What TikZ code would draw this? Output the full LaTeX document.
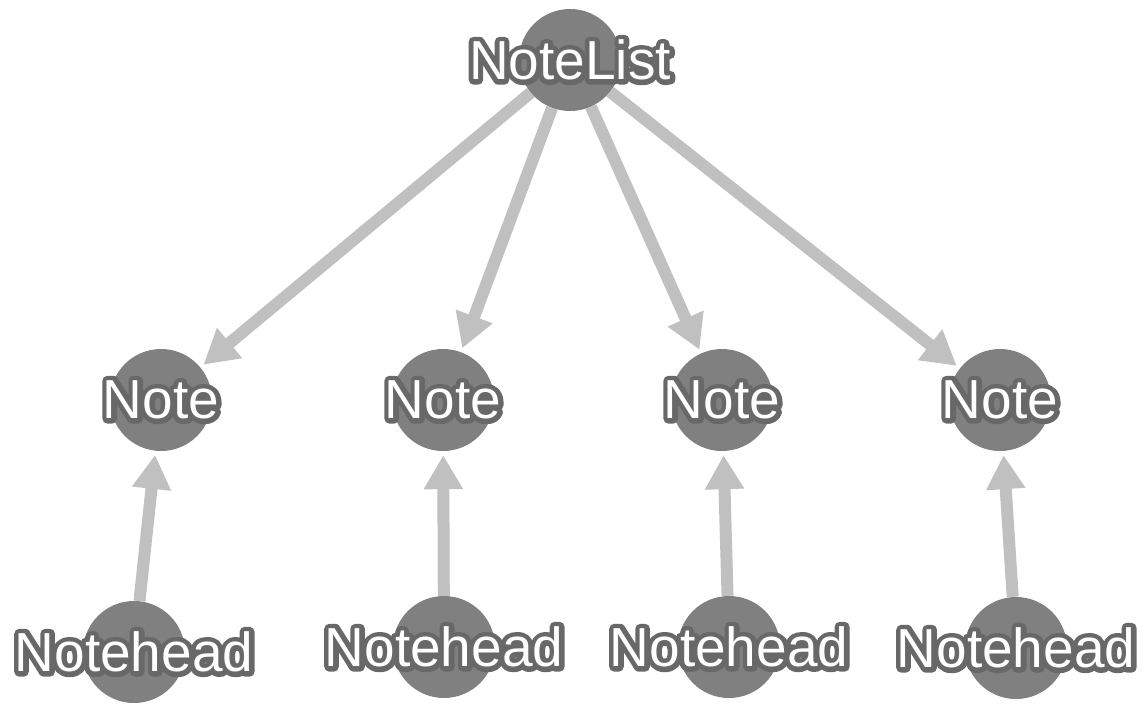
\documentclass[tikz,border=0pt]{standalone}
\usepackage{fontspec}
\setmainfont{Liberation Sans}
\usetikzlibrary{arrows.meta,backgrounds}
\definecolor{circ}{RGB}{128,128,128}
\definecolor{halo}{RGB}{104,104,104}
\definecolor{edgec}{RGB}{192,192,192}
\newcommand{\halotext}[1]{\leavevmode\rlap{\color{halo}\special{pdf:literal direct 2 Tr 10 w 1 j 1 J}#1\special{pdf:literal direct 0 Tr 1 w}}\textcolor{white}{#1}}
\tikzset{
  ball/.style={circle,fill=circ,minimum size=102pt,inner sep=0pt},
  lbl/.style={inner sep=0pt,font=\fontsize{55}{55}\selectfont},
  link/.style={draw=edgec,line width=12pt,-{Triangle[length=34pt,width=37pt]},shorten >=4pt}
}
\begin{document}
\begin{tikzpicture}[x=1pt,y=-1pt]
\useasboundingbox (0,0) rectangle (1141,704);
\node[ball] (NL) at (570,60) {};
\node[ball] (N1) at (161,400) {};
\node[ball] (N2) at (443,400) {};
\node[ball] (N3) at (722,400) {};
\node[ball] (N4) at (1000,400) {};
\node[ball] (H1) at (134,652) {};
\node[ball] (H2) at (444,647) {};
\node[ball] (H3) at (729,647) {};
\node[ball] (H4) at (1016,648) {};
\begin{pgfonlayer}{background}
\draw[link] (NL) -- (N1);
\draw[link] (NL) -- (N2);
\draw[link] (NL) -- (N3);
\draw[link] (NL) -- (N4);
\draw[link] (H1) -- (N1);
\draw[link] (H2) -- (N2);
\draw[link] (H3) -- (N3);
\draw[link] (H4) -- (N4);
\end{pgfonlayer}
\node[lbl] (NLt) at (NL) {\halotext{NoteList}};
\node[lbl] (N1t) at (N1) {\halotext{Note}};
\node[lbl] (N2t) at (N2) {\halotext{Note}};
\node[lbl] (N3t) at (N3) {\halotext{Note}};
\node[lbl] (N4t) at (N4) {\halotext{Note}};
\node[lbl] (H1t) at (H1) {\halotext{Notehead}};
\node[lbl] (H2t) at (H2) {\halotext{Notehead}};
\node[lbl] (H3t) at (H3) {\halotext{Notehead}};
\node[lbl] (H4t) at (H4) {\halotext{Notehead}};
\end{tikzpicture}
\end{document}
